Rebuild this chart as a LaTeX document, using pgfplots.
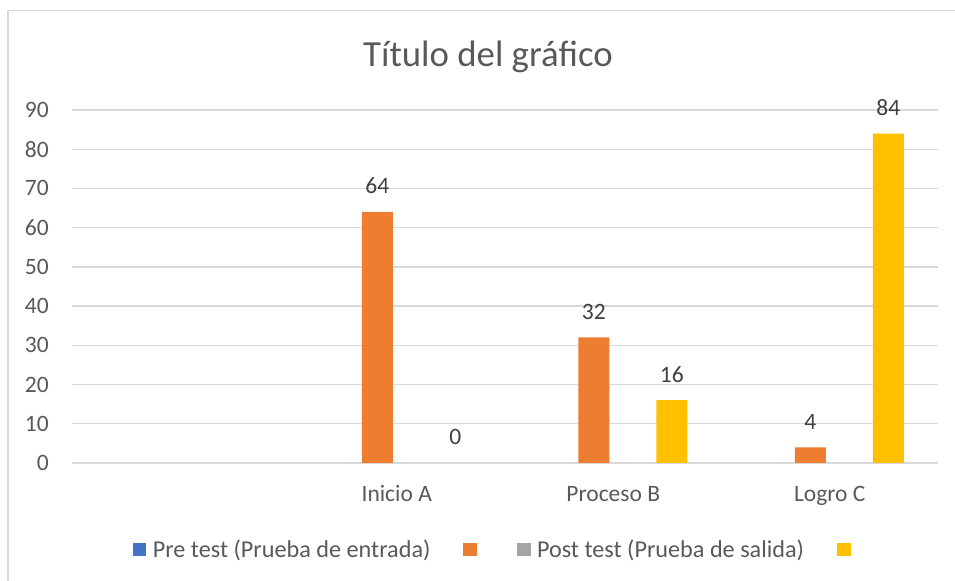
\documentclass[border=0pt]{standalone}
\usepackage{fontspec}
\setmainfont{Carlito}
\usepackage{pgfplots}
\pgfplotsset{compat=1.18}
\definecolor{txt}{HTML}{595959}
\definecolor{lbl}{HTML}{404040}
\definecolor{gridc}{HTML}{D9D9D9}
\definecolor{cblue}{HTML}{4472C4}
\definecolor{corange}{HTML}{ED7D31}
\definecolor{cgray}{HTML}{A5A5A5}
\definecolor{cyellow}{HTML}{FFC000}
\pgfplotsset{
  sqlegend/.style={legend image code/.code={\fill[##1] (0bp,-6.8bp) rectangle (13.5bp,6.7bp); \path (19.8bp,0bp);}},
}
\begin{document}
\begin{tikzpicture}
\path[use as bounding box] (0bp,0bp) rectangle (955bp,581bp);
\draw[gridc, line width=1.5bp] (8bp,0bp) -- (8bp,570.3bp) -- (955bp,570.3bp);
\node[anchor=base, font=\fontsize{36.8bp}{40bp}\selectfont, text=txt, inner sep=0pt] at (488bp,514.3bp) {Título del gráfico};
\begin{axis}[
  at={(180.25bp,118bp)}, anchor=origin,
  scale only axis, width=866bp, height=353bp,
  xmin=-0.5, xmax=3.5, ymin=0, ymax=90,
  axis line style={draw=none},
  major tick length=0pt,
  tick style={draw=none},
  ymajorgrids, grid style={gridc, line width=1.3bp},
  ytick={0,10,...,90},
  xtick={0,1,2,3},
  xticklabels={{},Inicio A,Proceso B,Logro C},
  /pgf/number format/assume math mode=true,
  yticklabel style={anchor=east, inner sep=0pt, xshift=-23bp, font=\fontsize{23.5bp}{28bp}\selectfont, text=txt},
  xticklabel style={anchor=base, inner sep=0pt, yshift=-39bp, font=\fontsize{23.5bp}{28bp}\selectfont, text=txt},
  legend style={at={(0.0704,-0.245)}, anchor=west, draw=none, fill=none, inner sep=0pt, outer sep=0pt,
    font=\fontsize{24.2bp}{28bp}\selectfont, text=txt,
    /tikz/every even column/.append style={column sep=33bp},
    nodes={inner sep=0pt}},
  legend columns=-1,
  every node near coord/.append style={anchor=base, inner sep=0pt, yshift=18bp, font=\fontsize{23.5bp}{28bp}\selectfont, text=lbl},
]
\addlegendimage{sqlegend, fill=cblue, draw=none}
\addlegendentry{Pre test (Prueba de entrada)}
\addplot[ybar, bar width=31bp, bar shift=-19.5bp, fill=corange, draw=none, nodes near coords,
  every node near coord/.append style={xshift=-19.5bp}, sqlegend]
  coordinates {(1,64) (2,32) (3,4)};
\addlegendentry{}
\addlegendimage{sqlegend, fill=cgray, draw=none}
\addlegendentry{Post test (Prueba de salida)}
\addplot[ybar, bar width=31bp, bar shift=58.5bp, fill=cyellow, draw=none, nodes near coords,
  every node near coord/.append style={xshift=58.5bp}, sqlegend]
  coordinates {(2,16) (3,84)};
\addlegendentry{}
\addplot[forget plot, draw=none, mark=none, nodes near coords,
  every node near coord/.append style={xshift=58.5bp}]
  coordinates {(1,0)};
\end{axis}
\end{tikzpicture}
\end{document}
